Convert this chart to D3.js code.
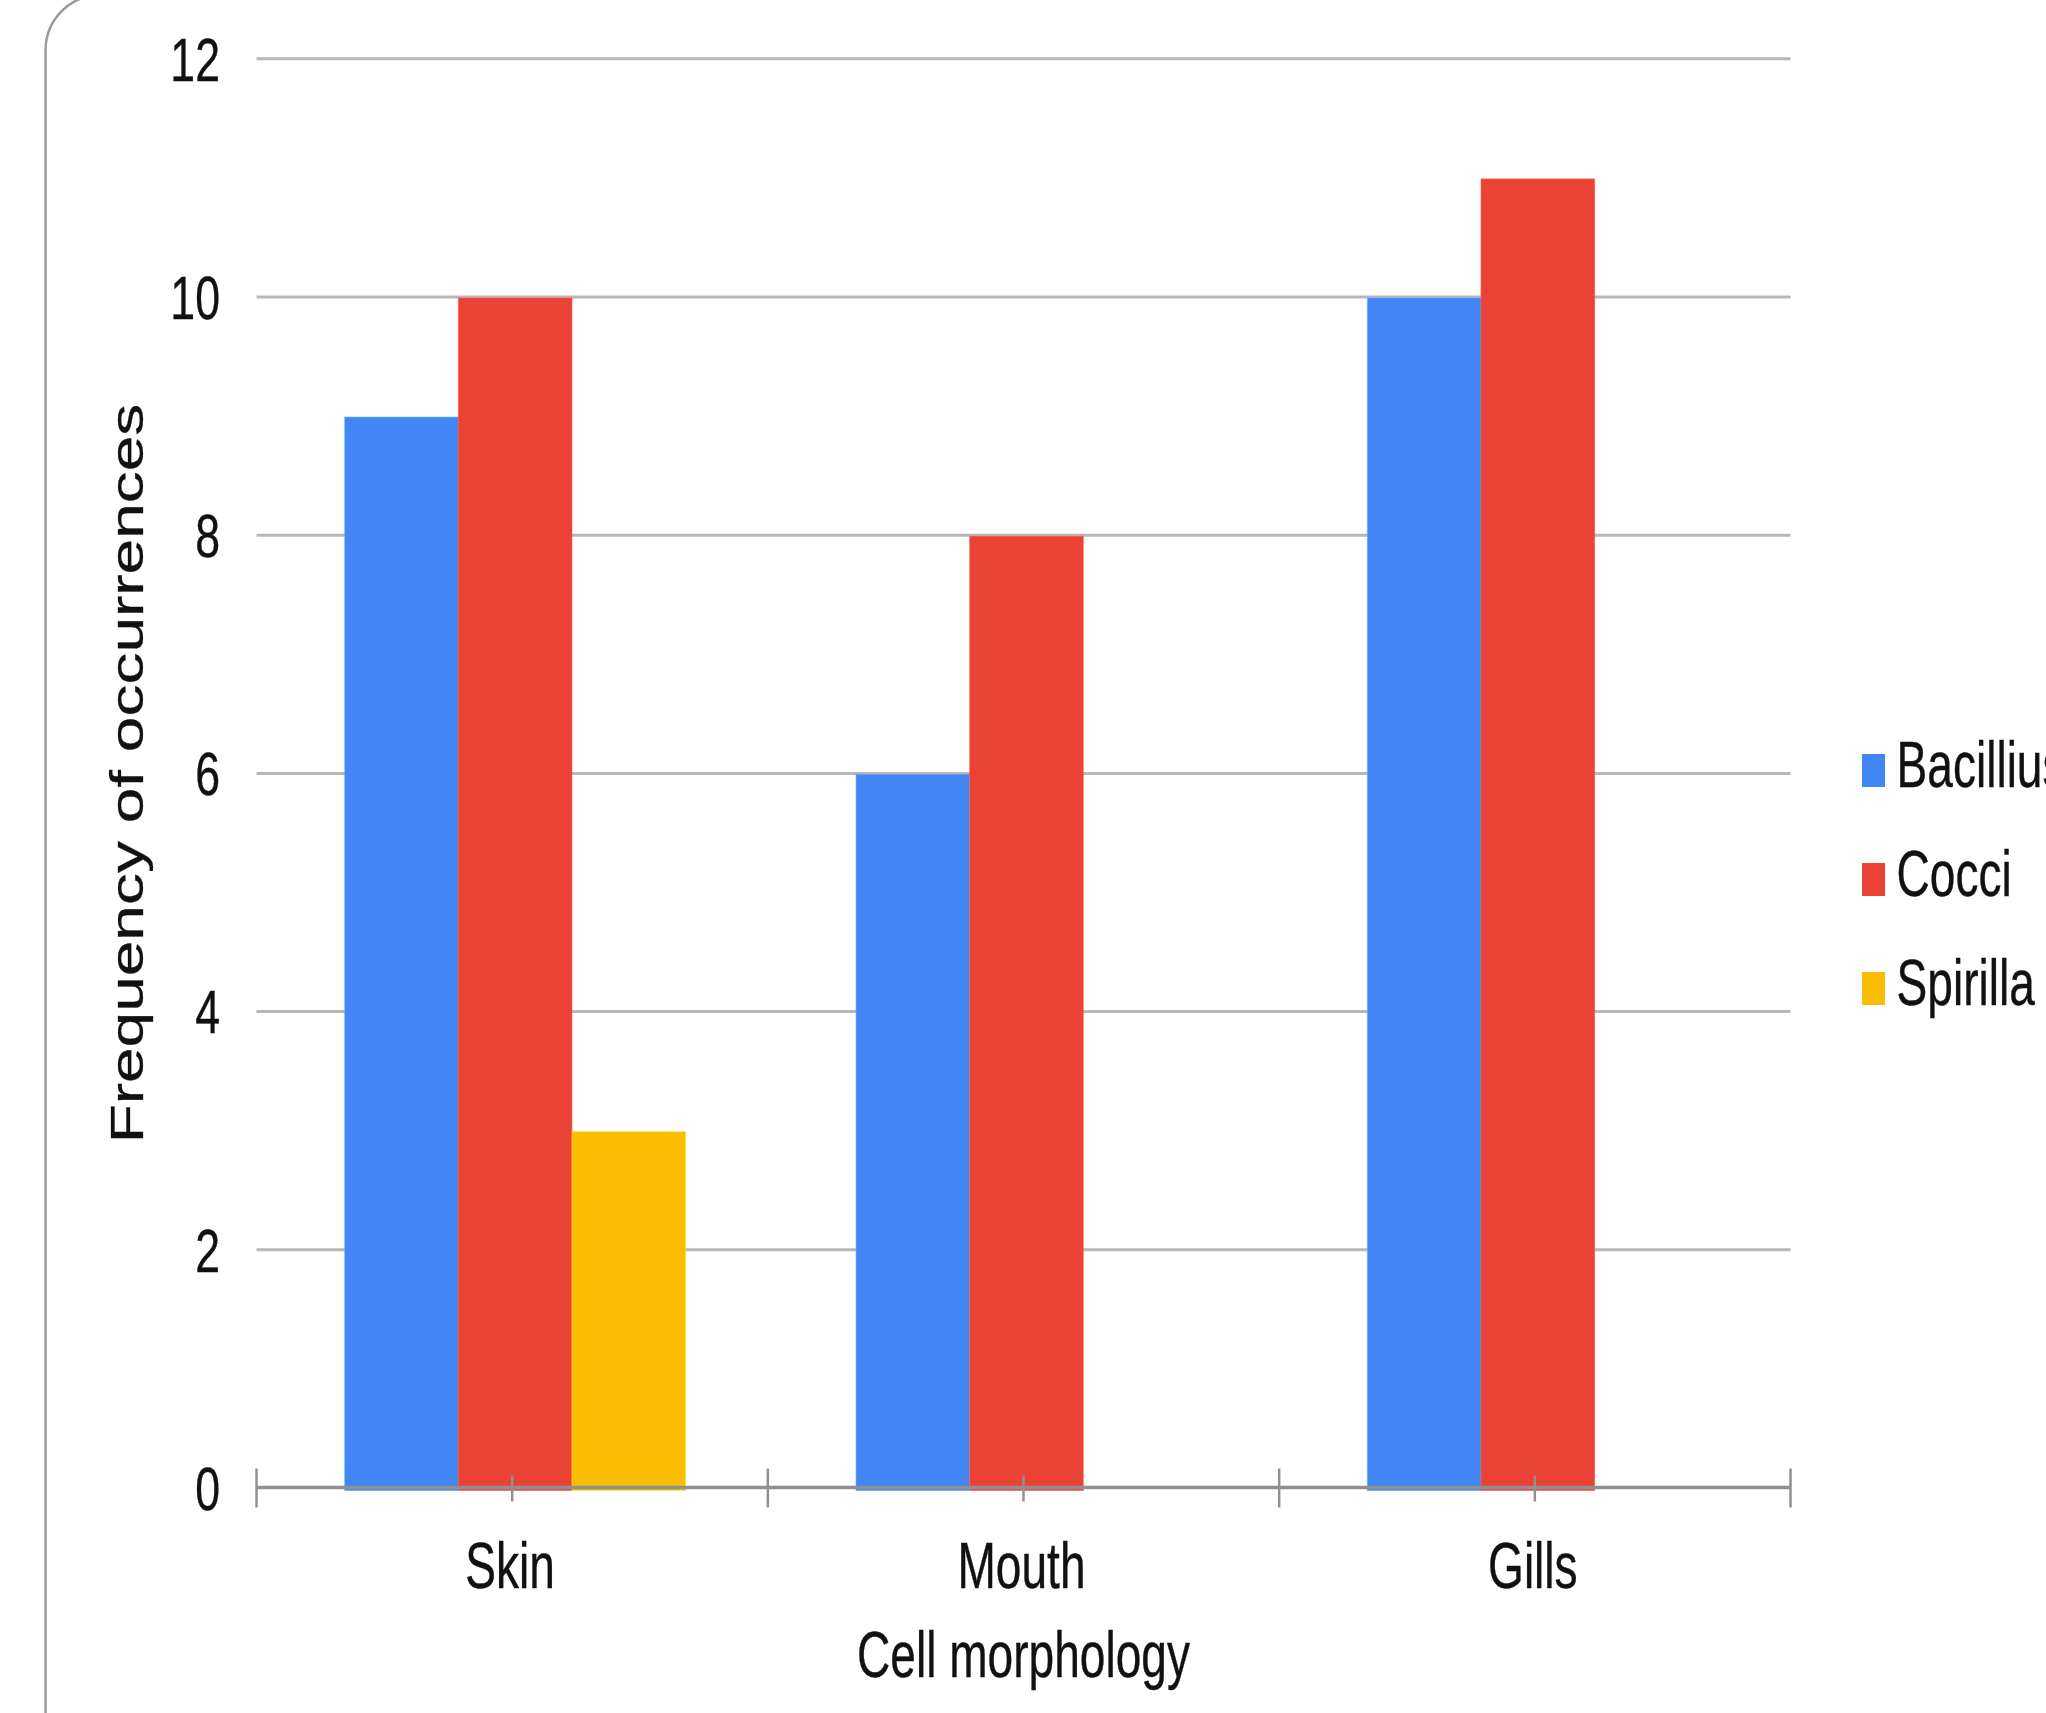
<!DOCTYPE html>
<html>
<head>
<meta charset="utf-8">
<script src="https://cdn.jsdelivr.net/npm/d3@7"></script>
<style>
  html, body { margin: 0; padding: 0; background: #fff; overflow: hidden; }
  svg text { font-family: "Liberation Sans", Arial, sans-serif; fill: #111; stroke: #111; stroke-width: 0.4; }
</style>
</head>
<body>
<svg id="chart" width="2046" height="1713"></svg>
<script>
// Occurrences of each cell shape by sampling site
const categories = ["Skin", "Mouth", "Gills"];
const seriesNames = ["Bacillius", "Cocci", "Spirilla"];
const bacilliusValues = [9, 6, 10];
const cocciValues = [10, 8, 11];
const spirillaValues = [3, 0, 0];
const yTickValues = [0, 2, 4, 6, 8, 10, 12];
const seriesColors = ["#4285f4", "#ea4335", "#fbbc04"];
const xAxisTitle = "Cell morphology";
const yAxisTitle = "Frequency of occurrences";

const seriesValues = [bacilliusValues, cocciValues, spirillaValues];

// Condensed glyph width used for all labels
const SX = 0.72;

const svg = d3.select("#chart");
svg.append("rect").attr("width", 2046).attr("height", 1713).attr("fill", "#fff");

// Rounded frame around the chart area
svg.append("rect")
  .attr("x", 45.6).attr("y", -5)
  .attr("width", 2200).attr("height", 1900)
  .attr("rx", 55).attr("ry", 55)
  .attr("fill", "none")
  .attr("stroke", "#9a9a9a")
  .attr("stroke-width", 2.5);

const plot = { left: 256.5, right: 1790.5, top: 58.3, bottom: 1487.5 };

const y = d3.scaleLinear().domain([0, 12]).range([plot.bottom, plot.top]);
const x0 = d3.scaleBand().domain(categories).range([plot.left, plot.right]);
const x1 = d3.scaleBand().domain(seriesNames).range([0, x0.bandwidth()])
  .paddingInner(0).paddingOuter(0.75);
const color = d3.scaleOrdinal().domain(seriesNames).range(seriesColors);

// Horizontal gridlines
const grid = svg.append("g")
  .attr("transform", `translate(${plot.left},0)`)
  .call(d3.axisLeft(y)
    .tickValues(yTickValues.filter(v => v !== 0))
    .tickSize(-(plot.right - plot.left))
    .tickFormat(""));
grid.select(".domain").remove();
grid.selectAll(".tick line").attr("stroke", "#b8b8b8").attr("stroke-width", 3);

// Y tick labels
svg.append("g").selectAll("text")
  .data(yTickValues)
  .join("text")
  .attr("transform", d => `translate(220,${y(d)}) scale(${SX},1)`)
  .attr("dy", "0.358em")
  .attr("text-anchor", "end")
  .attr("font-size", 62)
  .text(d => d);

// Bars
const rows = categories.map((c, i) => ({
  category: c,
  values: seriesNames.map((s, j) => ({ series: s, value: seriesValues[j][i] }))
}));

svg.append("g")
  .selectAll("g")
  .data(rows)
  .join("g")
  .attr("transform", d => `translate(${x0(d.category) + 3},0)`)
  .selectAll("rect")
  .data(d => d.values.filter(v => v.value > 0))
  .join("rect")
  .attr("x", d => x1(d.series))
  .attr("width", x1.bandwidth())
  .attr("y", d => y(d.value) + 1.5)
  .attr("height", d => y(0) - y(d.value) + 1.5)
  .attr("fill", d => color(d.series))
  .attr("stroke", d => d3.color(color(d.series)).brighter(0.7))
  .attr("stroke-opacity", 0.6)
  .attr("stroke-width", 1);

// Category axis: baseline, band boundary ticks and centre ticks
const axisG = svg.append("g");
axisG.append("line")
  .attr("x1", plot.left).attr("x2", plot.right)
  .attr("y1", y(0)).attr("y2", y(0))
  .attr("stroke", "#909090").attr("stroke-width", 3.5);

const boundaries = categories.map(c => x0(c)).concat([x0.range()[1]]);
axisG.selectAll("line.bound")
  .data(boundaries)
  .join("line")
  .attr("class", "bound")
  .attr("x1", d => d).attr("x2", d => d)
  .attr("y1", y(0) - 19).attr("y2", y(0) + 20)
  .attr("stroke", "#909090").attr("stroke-width", 2.5);

axisG.selectAll("line.mid")
  .data(categories)
  .join("line")
  .attr("class", "mid")
  .attr("x1", d => x0(d) + x0.bandwidth() / 2)
  .attr("x2", d => x0(d) + x0.bandwidth() / 2)
  .attr("y1", y(0) - 12).attr("y2", y(0) + 14)
  .attr("stroke", "#909090").attr("stroke-width", 2.5);

// Category labels
svg.append("g").selectAll("text")
  .data(categories)
  .join("text")
  .attr("transform", d => `translate(${x0(d) + x0.bandwidth() / 2 - 2},1588) scale(${SX},1)`)
  .attr("text-anchor", "middle")
  .attr("font-size", 64)
  .text(d => d);

// Axis titles
svg.append("text")
  .attr("transform", `translate(${(plot.left + plot.right) / 2},1677) scale(${SX},1)`)
  .attr("text-anchor", "middle")
  .attr("font-size", 64)
  .text(xAxisTitle);

svg.append("text")
  .attr("transform", `translate(143,${(405 + 1142) / 2}) scale(${SX},1) rotate(-90)`)
  .attr("text-anchor", "middle")
  .attr("font-size", 64)
  .text(yAxisTitle);

// Legend
const legend = svg.append("g").selectAll("g")
  .data(seriesNames)
  .join("g")
  .attr("transform", (d, i) => `translate(1862,${787 + i * 109}) scale(${SX},1)`);
legend.append("rect")
  .attr("x", 0).attr("y", -33)
  .attr("width", 32).attr("height", 33)
  .attr("fill", d => color(d));
legend.append("text")
  .attr("x", 48)
  .attr("font-size", 64)
  .text(d => d);
</script>
</body>
</html>
